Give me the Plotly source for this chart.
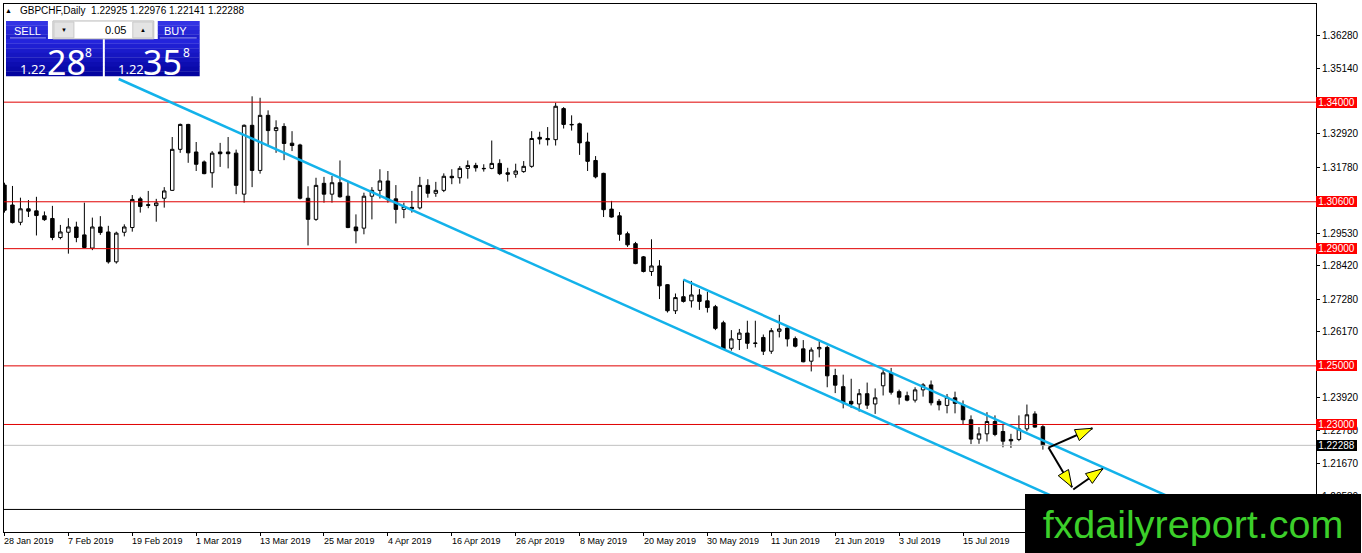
import math
import pandas as pd
import plotly.graph_objects as go

# GBPCHF daily bars, 28 Jan 2019 .. 29 Jul 2019
OPEN = [1.3117, 1.3049, 1.2990, 1.3036, 1.3029, 1.3012, 1.3003, 1.2938, 1.2956, 1.2974,
        1.2947, 1.2902, 1.2974, 1.2957, 1.2855, 1.2956, 1.2972, 1.3070, 1.3050, 1.3047,
        1.3072, 1.3099, 1.3239, 1.3324, 1.3230, 1.3196, 1.3159, 1.3230, 1.3230, 1.3226,
        1.3086, 1.3321, 1.3167, 1.3355, 1.3303, 1.3317, 1.3260, 1.3254, 1.3072, 1.3000,
        1.3123, 1.3086, 1.3125, 1.3079, 1.2974, 1.2970, 1.3079, 1.3099, 1.3131, 1.3070,
        1.3034, 1.3041, 1.3039, 1.3116, 1.3089, 1.3099, 1.3147, 1.3142, 1.3174, 1.3184,
        1.3174, 1.3174, 1.3191, 1.3159, 1.3154, 1.3163, 1.3181, 1.3280, 1.3276, 1.3272,
        1.3378, 1.3324, 1.3326, 1.3264, 1.3201, 1.3157, 1.3035, 1.3012, 1.2951, 1.2917,
        1.2872, 1.2822, 1.2841, 1.2777, 1.2688, 1.2736, 1.2722, 1.2742, 1.2722, 1.2702,
        1.2647, 1.2560, 1.2590, 1.2612, 1.2578, 1.2597, 1.2550, 1.2618, 1.2629, 1.2593,
        1.2558, 1.2516, 1.2558, 1.2563, 1.2467, 1.2429, 1.2379, 1.2370, 1.2405, 1.2370,
        1.2432, 1.2476, 1.2412, 1.2398, 1.2383, 1.2418, 1.2435, 1.2379, 1.2365, 1.2391,
        1.2368, 1.2316, 1.2250, 1.2268, 1.2310, 1.2276, 1.2249, 1.2249, 1.2285, 1.2336,
        1.22925]
HIGH = [1.3125, 1.3114, 1.3074, 1.3066, 1.3077, 1.3027, 1.3046, 1.2981, 1.3004, 1.2992,
        1.3057, 1.3006, 1.3011, 1.2978, 1.2958, 1.2983, 1.3083, 1.3077, 1.3097, 1.3070,
        1.3110, 1.3281, 1.3327, 1.3326, 1.3264, 1.3201, 1.3233, 1.3261, 1.3281, 1.3238,
        1.3324, 1.3420, 1.3415, 1.3372, 1.3338, 1.3328, 1.3301, 1.3258, 1.3113, 1.3142,
        1.3145, 1.3148, 1.3201, 1.3131, 1.3017, 1.3091, 1.3110, 1.3171, 1.3165, 1.3117,
        1.3057, 1.3097, 1.3145, 1.3137, 1.3128, 1.3157, 1.3171, 1.3182, 1.3201, 1.3193,
        1.3188, 1.3269, 1.3205, 1.3176, 1.3190, 1.3199, 1.3301, 1.3299, 1.3315, 1.3398,
        1.3383, 1.3355, 1.3330, 1.3296, 1.3216, 1.3159, 1.3063, 1.3025, 1.2958, 1.2923,
        1.2875, 1.2932, 1.2861, 1.2779, 1.2747, 1.2794, 1.2790, 1.2762, 1.2753, 1.2708,
        1.2654, 1.2622, 1.2626, 1.2654, 1.2654, 1.2607, 1.2629, 1.2674, 1.2635, 1.2600,
        1.2588, 1.2563, 1.2584, 1.2569, 1.2490, 1.2470, 1.2456, 1.2421, 1.2443, 1.2423,
        1.2486, 1.2493, 1.2419, 1.2412, 1.2427, 1.2441, 1.2450, 1.2387, 1.2404, 1.2412,
        1.2382, 1.2331, 1.2291, 1.2342, 1.2331, 1.2302, 1.2268, 1.2331, 1.2368, 1.2345,
        1.22976]
LOW = [1.3023, 1.2986, 1.2980, 1.3008, 1.2945, 1.2995, 1.2929, 1.2932, 1.2883, 1.2922,
       1.2902, 1.2895, 1.2947, 1.2849, 1.2849, 1.2942, 1.2958, 1.3023, 1.3038, 1.2992,
       1.3040, 1.3097, 1.3227, 1.3193, 1.3165, 1.3154, 1.3108, 1.3179, 1.3174, 1.3086,
       1.3057, 1.3110, 1.3156, 1.3250, 1.3227, 1.3202, 1.3233, 1.3068, 1.2911, 1.2995,
       1.3057, 1.3057, 1.3074, 1.2970, 1.2918, 1.2949, 1.3000, 1.3071, 1.3057, 1.2986,
       1.3004, 1.3023, 1.3034, 1.3074, 1.3077, 1.3093, 1.3120, 1.3122, 1.3139, 1.3163,
       1.3163, 1.3171, 1.3151, 1.3129, 1.3142, 1.3159, 1.3176, 1.3256, 1.3252, 1.3252,
       1.3310, 1.3303, 1.3220, 1.3165, 1.3140, 1.3008, 1.3006, 1.2927, 1.2906, 1.2847,
       1.2819, 1.2807, 1.2728, 1.2682, 1.2677, 1.2716, 1.2699, 1.2691, 1.2682, 1.2622,
       1.2554, 1.2552, 1.2554, 1.2558, 1.2563, 1.2537, 1.2541, 1.2597, 1.2566, 1.2563,
       1.2512, 1.2481, 1.2529, 1.2427, 1.2407, 1.2355, 1.2356, 1.2344, 1.2353, 1.2336,
       1.2399, 1.2402, 1.2368, 1.2379, 1.2375, 1.2395, 1.2365, 1.2348, 1.2338, 1.2338,
       1.2299, 1.2233, 1.2234, 1.2242, 1.2260, 1.2222, 1.2220, 1.2243, 1.2277, 1.2289,
       1.22141]
CLOSE = [1.3031, 1.2989, 1.3036, 1.3028, 1.3013, 1.2999, 1.2938, 1.2957, 1.2974, 1.2938,
         1.2904, 1.2974, 1.2955, 1.2855, 1.2953, 1.2974, 1.3068, 1.3044, 1.3048, 1.3056,
         1.3097, 1.3239, 1.3324, 1.3227, 1.3188, 1.3156, 1.3226, 1.3224, 1.3224, 1.3116,
         1.3321, 1.3167, 1.3355, 1.3303, 1.3313, 1.3259, 1.3252, 1.3072, 1.3000, 1.3116,
         1.3086, 1.3125, 1.3077, 1.2972, 1.2961, 1.3079, 1.3099, 1.3131, 1.3067, 1.3034,
         1.3044, 1.3037, 1.3116, 1.3089, 1.3099, 1.3147, 1.3142, 1.3174, 1.3184, 1.3176,
         1.3173, 1.3191, 1.3156, 1.3154, 1.3165, 1.3181, 1.3276, 1.3274, 1.3272, 1.3386,
         1.3324, 1.3323, 1.3261, 1.3198, 1.3145, 1.3033, 1.3008, 1.2949, 1.2913, 1.2849,
         1.2822, 1.2841, 1.2773, 1.2688, 1.2733, 1.2720, 1.2742, 1.2720, 1.2699, 1.2628,
         1.2558, 1.2592, 1.2612, 1.2577, 1.2577, 1.2550, 1.2620, 1.2626, 1.2592, 1.2567,
         1.2514, 1.2554, 1.2563, 1.2466, 1.2434, 1.2374, 1.2370, 1.2405, 1.2366, 1.2391,
         1.2476, 1.2410, 1.2393, 1.2383, 1.2418, 1.2435, 1.2374, 1.2367, 1.2393, 1.2372,
         1.2316, 1.2250, 1.2268, 1.2310, 1.2266, 1.2243, 1.2244, 1.2285, 1.2333, 1.2291,
         1.22288]

TICK_LABELS = ["28 Jan 2019", "7 Feb 2019", "19 Feb 2019", "1 Mar 2019", "13 Mar 2019",
               "25 Mar 2019", "4 Apr 2019", "16 Apr 2019", "26 Apr 2019", "8 May 2019",
               "20 May 2019", "30 May 2019", "11 Jun 2019", "21 Jun 2019", "3 Jul 2019",
               "15 Jul 2019"]
PRICE_TICKS = [1.36280, 1.35140, 1.32920, 1.31780, 1.29530, 1.28420, 1.27280,
               1.26170, 1.23920, 1.22780, 1.21670, 1.20530]
RED_LEVELS = [1.34000, 1.30600, 1.29000, 1.25000, 1.23000]
BLACK_LEVEL = 1.20100
BID = 1.22288
ASK = 1.22358
LOT = "0.05"
SYMBOL = "GBPCHF,Daily"

# drawn objects: (bar, price) pairs
TRENDLINES = [((14.3, 1.3479), (150.0, 1.1826)),
              ((85.0, 1.2794), (150.0, 1.2002))]
ARROWS = [((130.7, 1.2221), (136.2, 1.2287)),
          ((130.7, 1.2221), (133.65, 1.2086)),
          ((133.8, 1.2078), (137.5, 1.2149))]

# ---- geometry of the picture ------------------------------------------------
W, H = 1362, 553
PL, PR, PT, PB = 3, 1317, 3, 532          # plot area in pixels
XR = [-0.06, 164.19]
YR = [1.1933, 1.3735]
FONT = "Liberation Sans"
LINE_BLUE = "#13b2ea"
RED = "#e00000"


def px_x(x):
    return (x - PL) / (PR - PL)


def px_y(y):
    return (PB - y) / (PB - PT)


def d2p(bar, price):
    xp = PL + (bar - XR[0]) / (XR[1] - XR[0]) * (PR - PL)
    yp = PB - (price - YR[0]) / (YR[1] - YR[0]) * (PB - PT)
    return xp, yp


dates = pd.bdate_range("2019-01-28", periods=len(CLOSE))
date_txt = [f"{d.day} {d.strftime('%b %Y')}" for d in dates]
tick_pos = [date_txt.index(t) for t in TICK_LABELS]
bars = list(range(len(CLOSE)))

fig = go.Figure()
fig.add_trace(go.Candlestick(
    x=bars, open=OPEN, high=HIGH, low=LOW, close=CLOSE,
    increasing=dict(line=dict(color="black", width=1), fillcolor="white"),
    decreasing=dict(line=dict(color="black", width=1), fillcolor="black"),
    whiskerwidth=0, showlegend=False, hoverinfo="skip"))

shapes = []
annotations = []

# horizontal levels
for lv in RED_LEVELS:
    shapes.append(dict(type="line", xref="paper", yref="y", x0=0, x1=1, y0=lv, y1=lv,
                       line=dict(color=RED, width=1)))
shapes.append(dict(type="line", xref="paper", yref="y", x0=0, x1=1, y0=BID, y1=BID,
                   line=dict(color="#c0c0c0", width=1)))
shapes.append(dict(type="line", xref="paper", yref="y", x0=0, x1=1,
                   y0=BLACK_LEVEL, y1=BLACK_LEVEL, line=dict(color="black", width=1)))

# channel lines
for (b0, p0), (b1, p1) in TRENDLINES:
    shapes.append(dict(type="line", xref="x", yref="y", x0=b0, y0=p0, x1=b1, y1=p1,
                       line=dict(color=LINE_BLUE, width=2.5), layer="above"))

# arrows: black shaft + yellow head
for (b0, p0), (b1, p1) in ARROWS:
    shapes.append(dict(type="line", xref="x", yref="y", x0=b0, y0=p0, x1=b1, y1=p1,
                       line=dict(color="black", width=2), layer="above"))
    x0, y0 = d2p(b0, p0)
    x1, y1 = d2p(b1, p1)
    ln = math.hypot(x1 - x0, y1 - y0)
    ux, uy = (x1 - x0) / ln, (y1 - y0) / ln
    bx, by = x1 - ux * 17, y1 - uy * 17
    nx, ny = -uy * 6, ux * 6
    pts = [(x1, y1), (bx + nx, by + ny), (bx - nx, by - ny)]
    path = "M " + " L ".join(f"{px_x(a):.5f},{px_y(b):.5f}" for a, b in pts) + " Z"
    shapes.append(dict(type="path", xref="paper", yref="paper", path=path,
                       fillcolor="#ffff00", line=dict(color="black", width=1), layer="above"))


# one-click trading panel
def rect(x0, y0, x1, y1, fill, line=None):
    shapes.append(dict(type="rect", xref="paper", yref="paper",
                       x0=px_x(x0), x1=px_x(x1), y0=px_y(y1), y1=px_y(y0),
                       fillcolor=fill, line=line or dict(width=0), layer="above"))


def grad_rect(x0, y0, x1, y1, top, bottom, steps=8):
    h = (y1 - y0) / steps
    for k in range(steps):
        t = k / (steps - 1)
        c = tuple(round(top[j] + (bottom[j] - top[j]) * t) for j in range(3))
        rect(x0, y0 + k * h, x1, y0 + (k + 1) * h + 0.3, f"rgb{c}")


grad_rect(5, 20, 47, 38, (52, 52, 228), (30, 30, 205), 4)
grad_rect(157, 20, 199, 38, (52, 52, 228), (30, 30, 205), 4)
grad_rect(5, 38, 102, 75, (36, 36, 220), (4, 4, 160))
grad_rect(104, 38, 199, 75, (36, 36, 220), (4, 4, 160))
rect(52, 20, 153, 38, "white", dict(color="#b8b8b8", width=1))
rect(53, 21, 73, 37, "#e4e4e4", dict(color="#c8c8c8", width=1))
rect(132, 21, 152, 37, "#e4e4e4", dict(color="#c8c8c8", width=1))
for xa, xb in [(9, 45), (159, 196)]:
    shapes.append(dict(type="line", xref="paper", yref="paper", x0=px_x(xa), x1=px_x(xb),
                       y0=px_y(37), y1=px_y(37), line=dict(color="#9a9af0", width=1),
                       layer="above"))


def text(x, y, s, size, color="black", xanchor="center", family=FONT, **kw):
    annotations.append(dict(x=px_x(x), y=px_y(y), xref="paper", yref="paper", text=s,
                            showarrow=False, xanchor=xanchor, yanchor="middle",
                            font=dict(size=size, color=color, family=family), **kw))


text(7.5, 10, "▲", 7)
text(17, 10, f"{SYMBOL}  {OPEN[-1]:.5f} {HIGH[-1]:.5f} {LOW[-1]:.5f} {CLOSE[-1]:.5f}",
     10, xanchor="left")
text(27, 30.5, "SELL", 11, "white")
text(175, 30.5, "BUY", 11, "white")
text(63, 29, "▼", 6)
text(142, 29, "▲", 6)
text(127, 29.5, LOT, 11, xanchor="right")
for s, x_small, x_big, x_sup in [(f"{BID:.5f}", 32.5, 65.5, 87.5),
                                 (f"{ASK:.5f}", 130.5, 162, 185.5)]:
    text(x_small, 68.5, s[:4], 13, "white", family="Noto Sans")
    text(x_big, 61, s[4:6], 34, "white", family="Noto Sans")
    text(x_sup, 51.5, s[6], 12, "white", family="Noto Sans")

# price-axis labels for the levels
for lv, bg in [(lv, "#ff0000") for lv in RED_LEVELS] + [(BID, "black")]:
    annotations.append(dict(x=1, xref="paper", y=lv, yref="y", text=f"{lv:.5f}",
                            showarrow=False, xanchor="left", yanchor="middle",
                            bgcolor=bg, width=39, height=9, borderpad=1, borderwidth=0,
                            font=dict(size=10, color="white", family=FONT)))

# date labels (left aligned at the bar, like the terminal)
for pos, lab in zip(tick_pos, TICK_LABELS):
    annotations.append(dict(x=pos, xref="x", y=0, yref="paper", text=lab, showarrow=False,
                            xanchor="left", yanchor="top", xshift=-2, yshift=-2,
                            font=dict(size=9, color="black", family=FONT)))

# watermark
annotations.append(dict(x=px_x(1026), y=px_y(494), xref="paper", yref="paper",
                        text="fxdailyreport.com", showarrow=False, xanchor="left",
                        yanchor="top", width=336, height=59, bgcolor="black",
                        borderpad=0, borderwidth=0, align="center", valign="middle",
                        font=dict(size=39.5, color="#3ccf2a", family=FONT)))

fig.update_layout(
    width=W, height=H,
    margin=dict(l=PL, r=W - PR, t=PT, b=H - PB),
    paper_bgcolor="white", plot_bgcolor="white",
    showlegend=False,
    boxgap=0.38,
    shapes=shapes, annotations=annotations,
    xaxis=dict(range=XR, rangeslider=dict(visible=False), showgrid=False, zeroline=False,
               showline=True, mirror=True, linecolor="black", linewidth=1,
               tickvals=tick_pos, showticklabels=False, ticks="outside", ticklen=3,
               tickcolor="black", fixedrange=True),
    yaxis=dict(range=YR, side="right", showgrid=False, zeroline=False,
               showline=True, mirror=True, linecolor="black", linewidth=1,
               tickvals=PRICE_TICKS, ticktext=[f"{v:.5f}" for v in PRICE_TICKS],
               ticks="outside", ticklen=3, tickcolor="black",
               tickfont=dict(size=10, color="black", family=FONT), fixedrange=True),
)

fig.write_html("out.html", config={"displayModeBar": False},
               post_script="document.body.style.margin='0';document.body.style.overflow='hidden';")
